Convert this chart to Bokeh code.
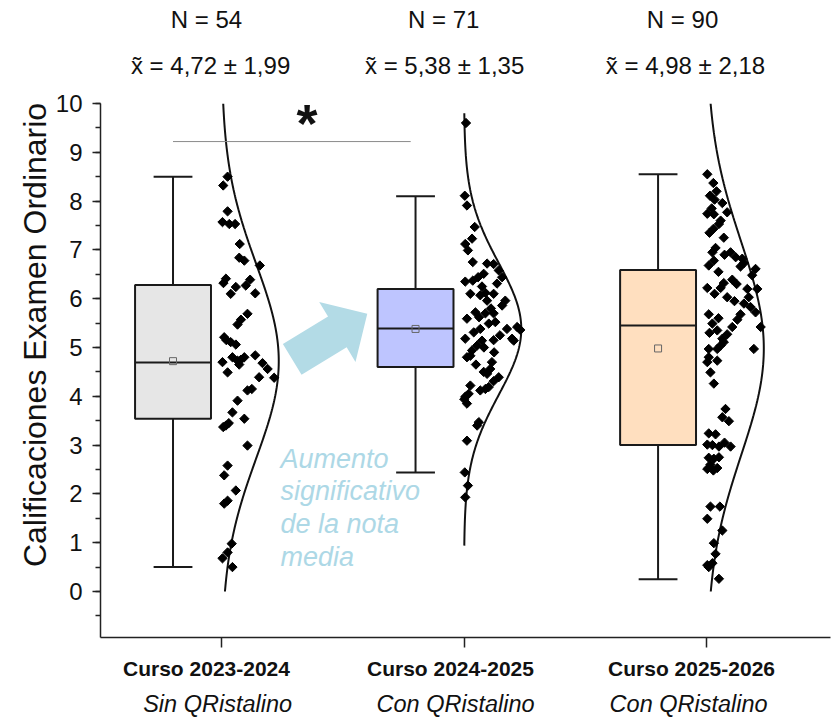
import numpy as np
from bokeh.plotting import figure
from bokeh.models import Range1d, Label, FixedTicker, LinearAxis
from bokeh.embed import file_html
from bokeh.resources import INLINE

# ---- data -------------------------------------------------------------
cursos = ["Curso 2023-2024", "Curso 2024-2025", "Curso 2025-2026"]
condicion = ["Sin QRistalino", "Con QRistalino", "Con QRistalino"]
n_alumnos = [54, 71, 90]
media = [4.72, 5.38, 4.98]
desv = [1.99, 1.35, 2.18]

# box statistics
q1 = [3.54, 4.60, 3.00]
mediana = [4.69, 5.39, 5.45]
q3 = [6.28, 6.20, 6.59]
bigote_inf = [0.50, 2.44, 0.25]
bigote_sup = [8.50, 8.10, 8.55]

# extent of the fitted normal curves
curva_min = [0.0, 0.94, 0.0]
curva_max = [10.0, 9.80, 10.0]

# individual grades and their horizontal jitter (fraction of category spacing)
notas_1 = [8.50, 8.32, 7.79, 7.57, 7.53, 7.53, 7.12, 6.84, 6.78, 6.68,
           6.41, 6.32, 6.24, 6.39, 6.27, 6.10, 6.11, 5.69, 5.57, 5.47,
           5.21, 5.11, 5.06, 4.70, 4.80, 4.73, 4.80, 4.65, 4.84, 4.49,
           4.68, 4.56, 4.39, 4.38, 4.12, 4.15, 3.91, 3.67, 3.54, 3.40,
           3.37, 2.99, 2.58, 2.38, 2.07, 1.86, 1.80, 0.98, 0.80, 0.68,
           0.50, 4.75, 5.15, 3.45]
jit_1 = [0.025, 0.007, 0.025, 0.004, 0.032, 0.056, 0.075, 0.073, 0.094, 0.158,
         0.018, 0.008, 0.059, 0.118, 0.100, 0.038, 0.139, 0.107, 0.080, 0.066,
         0.011, 0.038, 0.059, 0.004, 0.045, 0.066, 0.094, 0.073, 0.139, 0.025,
         0.169, 0.190, 0.155, 0.217, 0.107, 0.125, 0.066, 0.045, 0.094, 0.018,
         0.007, 0.107, 0.025, 0.011, 0.059, 0.025, 0.011, 0.042, 0.025, 0.004,
         0.045, 0.080, 0.020, 0.030]

notas_2 = [9.60, 8.11, 7.91, 7.47, 7.23, 7.12, 6.99, 6.75, 6.72, 6.71,
           6.58, 6.51, 6.44, 6.35, 6.37, 6.31, 6.44, 6.10, 6.07, 6.12,
           5.96, 6.10, 5.96, 5.86, 5.59, 5.72, 5.70, 5.70, 5.52, 5.49,
           5.38, 5.42, 5.36, 5.38, 5.31, 5.18, 5.14, 5.04, 5.15, 4.94,
           5.18, 5.14, 4.80, 4.83, 4.70, 4.56, 4.46, 4.50, 4.39, 4.31,
           4.22, 4.05, 4.12, 4.15, 4.19, 3.99, 3.94, 3.85, 3.47, 3.40,
           3.09, 2.44, 2.17, 1.93, 5.80, 5.62, 5.25, 5.00, 4.65, 6.25,
           4.90]
jit_2 = [0.008, 0.003, 0.012, 0.044, 0.033, 0.005, 0.016, 0.036, 0.095, 0.122,
         0.143, 0.081, 0.058, 0.005, 0.036, 0.136, 0.157, 0.026, 0.067, 0.088,
         0.095, 0.122, 0.170, 0.157, 0.012, 0.047, 0.088, 0.122, 0.129, 0.102,
         0.177, 0.219, 0.232, 0.067, 0.040, 0.005, 0.074, 0.054, 0.122, 0.033,
         0.198, 0.205, 0.012, 0.026, 0.115, 0.108, 0.095, 0.081, 0.143, 0.122,
         0.026, 0.019, 0.067, 0.088, 0.102, 0.005, 0.001, 0.012, 0.061, 0.054,
         0.012, 0.003, 0.016, 0.005, 0.111, 0.062, 0.148, 0.082, 0.049, 0.074,
         0.124]

notas_3 = [8.55, 8.37, 8.11, 8.03, 7.96, 7.77, 7.74, 7.73, 7.53, 7.43,
           7.25, 7.04, 6.95, 6.95, 6.85, 6.82, 6.78, 6.68, 6.66, 6.73,
           6.61, 6.48, 6.39, 6.32, 6.22, 6.22, 6.20, 6.20, 6.03, 6.03,
           5.90, 5.83, 5.72, 5.68, 5.68, 5.57, 5.49, 5.42, 5.42, 5.35,
           5.27, 5.18, 5.11, 5.04, 4.97, 4.97, 4.97, 4.80, 4.73, 4.70,
           4.49, 4.26, 3.74, 3.57, 3.49, 3.24, 3.22, 3.01, 3.00, 2.97,
           2.97, 2.74, 2.72, 2.75, 2.51, 2.48, 2.53, 1.74, 1.74, 1.49,
           1.25, 0.99, 0.77, 0.58, 0.50, 0.26, 0.54, 8.20, 7.85, 7.60,
           7.35, 6.90, 6.55, 6.30, 6.10, 5.95, 5.60, 5.30, 3.05, 2.60]
jit_3 = [0.003, 0.028, 0.014, 0.033, 0.065, 0.085, 0.003, 0.030, 0.051, 0.028,
         0.071, 0.037, 0.024, 0.099, 0.120, 0.147, 0.030, 0.009, 0.140, 0.154,
         0.202, 0.188, 0.106, 0.071, 0.058, 0.003, 0.168, 0.209, 0.085, 0.174,
         0.154, 0.181, 0.202, 0.009, 0.140, 0.127, 0.024, 0.223, 0.106, 0.044,
         0.085, 0.065, 0.071, 0.058, 0.009, 0.044, 0.195, 0.009, 0.044, 0.003,
         0.016, 0.030, 0.078, 0.065, 0.092, 0.009, 0.037, 0.003, 0.024, 0.051,
         0.099, 0.009, 0.030, 0.051, 0.003, 0.028, 0.044, 0.016, 0.055, 0.003,
         0.065, 0.030, 0.037, 0.024, 0.009, 0.051, 0.003, 0.041, 0.021, 0.058,
         0.012, 0.074, 0.049, 0.124, 0.033, 0.115, 0.049, 0.012, 0.074, 0.016]

notas = [notas_1, notas_2, notas_3]
jitter = [jit_1, jit_2, jit_3]

colores_caja = ["#e6e6e6", "#bec5ff", "#ffdfbf"]

# ---- figure -----------------------------------------------------------
X0, X1 = 0.501, 3.511
Y0, Y1 = -0.943, 10.0
FW, FH = 730, 534  # frame size in px

p = figure(width=834, height=719, output_backend="svg", toolbar_location=None,
           x_range=Range1d(X0, X1), y_range=Range1d(Y0, Y1),
           min_border_left=100, min_border_right=4,
           min_border_top=103, min_border_bottom=82)
p.outline_line_color = None
p.xgrid.visible = False
p.ygrid.visible = False

INK = "#111111"
AX = "#222222"

# y axis; the title is padded at its start so it sits centred on the 0-10 scale
titulo_y = "Calificaciones Examen Ordinario"
yax = p.yaxis[0]
yax.ticker = FixedTicker(ticks=list(range(0, 11)),
                         minor_ticks=[i * 0.5 for i in range(-1, 21)])
yax.axis_label = "\u00a0" * 8 + titulo_y
yax.axis_label_text_font = "Liberation Sans"
yax.axis_label_text_font_style = "normal"
yax.axis_label_text_font_size = "32px"
yax.axis_label_text_color = INK
yax.axis_label_standoff = 0
yax.major_label_text_font = "Liberation Sans"
yax.major_label_text_font_size = "24px"
yax.major_label_text_color = INK
yax.major_label_standoff = 10
yax.axis_line_width = 1.5
yax.axis_line_color = AX
yax.major_tick_line_color = AX
yax.minor_tick_line_color = AX
yax.major_tick_line_width = 1.5
yax.minor_tick_line_width = 1.5
yax.major_tick_in = 0
yax.major_tick_out = 8
yax.minor_tick_in = 0
yax.minor_tick_out = 5

pos = np.array([1.0, 2.0, 3.0])

# x axis: tick marks at each course
xax = p.xaxis[0]
xax.ticker = FixedTicker(ticks=list(pos), minor_ticks=[])
xax.major_label_overrides = {1: " ", 2: " ", 3: " "}
xax.major_label_text_font_size = "6px"
xax.major_label_standoff = 0
xax.axis_line_width = 1.5
xax.axis_line_color = AX
xax.major_tick_line_color = AX
xax.major_tick_line_width = 1.5
xax.major_tick_in = 0
xax.major_tick_out = 10


def text_axis(offsets, labels, font, style, size, standoff):
    ticks = [round(float(v) + o, 3) for v, o in zip(pos, offsets)]
    return LinearAxis(ticker=FixedTicker(ticks=ticks, minor_ticks=[]),
                      major_label_overrides=dict(zip(ticks, labels)),
                      major_label_text_font=font,
                      major_label_text_font_style=style,
                      major_label_text_font_size=size,
                      major_label_text_color=INK,
                      major_label_standoff=standoff,
                      axis_line_color=None, major_tick_line_color=None,
                      minor_tick_line_color=None)


# course names and condition under the axis
p.add_layout(text_axis([-0.062, -0.056, -0.062], cursos,
                       "Liberation Sans", "bold", "21px", -6), "below")
p.add_layout(text_axis([-0.016, -0.035, -0.074], condicion,
                       "Liberation Sans", "italic", "23.5px", 2), "below")


def fmt(v):
    return f"{v:.2f}".replace(".", ",")


resumen = [f"x\u0303 = {fmt(m)} \u00b1 {fmt(s)}" for m, s in zip(media, desv)]
conteo = [f"N = {n}" for n in n_alumnos]
p.add_layout(text_axis([-0.045, -0.08, -0.087], resumen,
                       "Liberation Sans", "normal", "24px", 19), "above")
p.add_layout(text_axis([-0.062, -0.084, -0.099], conteo,
                       "Liberation Sans", "normal", "24px", 10), "above")

box_x = pos - 0.2
box_w = 0.313
cap_w = 0.16
edge = "#1a1a1a"

# whiskers and caps
p.segment(x0=box_x, y0=q3, x1=box_x, y1=bigote_sup, line_color=edge, line_width=2)
p.segment(x0=box_x, y0=q1, x1=box_x, y1=bigote_inf, line_color=edge, line_width=2)
p.segment(x0=box_x - cap_w / 2, y0=bigote_sup, x1=box_x + cap_w / 2, y1=bigote_sup,
          line_color=edge, line_width=2)
p.segment(x0=box_x - cap_w / 2, y0=bigote_inf, x1=box_x + cap_w / 2, y1=bigote_inf,
          line_color=edge, line_width=2)

# boxes, medians, means
p.vbar(x=box_x, width=box_w, bottom=q1, top=q3, fill_color=colores_caja,
       line_color=edge, line_width=2)
p.segment(x0=box_x - box_w / 2, y0=mediana, x1=box_x + box_w / 2, y1=mediana,
          line_color=edge, line_width=2)
p.scatter(x=box_x, y=media, marker="square", size=7, fill_color=None,
          line_color="#666666", line_width=1)

# normal curves and jittered points
peak = 0.236
for i in range(3):
    yy = np.linspace(curva_min[i], curva_max[i], 300)
    xx = pos[i] + peak * np.exp(-0.5 * ((yy - media[i]) / desv[i]) ** 2)
    p.line(xx, yy, line_color=INK, line_width=2)
    p.scatter(x=pos[i] + np.array(jitter[i]), y=notas[i], marker="square",
              angle=np.pi / 4, size=6.6, color="black")

# significance bracket
p.segment(x0=[pos[0] - 0.2], y0=[9.22], x1=[pos[1] - 0.22], y1=[9.22],
          line_color="#8a8a8a", line_width=1)
p.add_layout(Label(x=1.353, y=9.60, text="*", text_align="center",
                   text_baseline="alphabetic", text_font="Liberation Sans",
                   text_font_style="bold", text_font_size="54px",
                   text_color=INK))

# block arrow between the first and second course
sx = FW / (X1 - X0)
sy = FH / (Y1 - Y0)
tail = np.array([1.2915 * sx, 4.758 * sy])
tip = np.array([1.601 * sx, 5.69 * sy])
d = tip - tail
u = d / np.linalg.norm(d)
nv = np.array([-u[1], u[0]])
hb = tip - u * 35
pts = [tail + nv * 18, hb + nv * 18, hb + nv * 35, tip,
       hb - nv * 35, hb - nv * 18, tail - nv * 18]
p.patch([q[0] / sx for q in pts], [q[1] / sy for q in pts],
        fill_color="#b3dbe6", line_color=None)

nota_txt = ["Aumento", "significativo", "de la nota", "media"]
for k, t in enumerate(nota_txt):
    p.add_layout(Label(x=1.243, y=2.725 - k * 0.676, text=t, text_align="left",
                       text_baseline="alphabetic", text_font="Liberation Sans",
                       text_font_style="italic", text_font_size="27px",
                       text_color="#add8e6"))

open("out.html", "w").write(file_html(p, INLINE))
